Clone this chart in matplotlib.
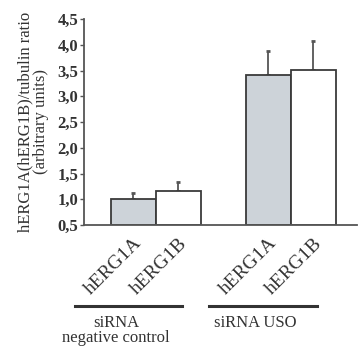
import matplotlib
matplotlib.use('Agg')
import matplotlib.pyplot as plt

labels = ['hERG1A', 'hERG1B', 'hERG1A', 'hERG1B']
positions = [0, 1, 3, 4]
values = [1.0, 1.16, 3.41, 3.51]
errors = [0.12, 0.17, 0.47, 0.56]
colors = ['#cdd3d9', 'white', '#cdd3d9', 'white']
groups = ['siRNA\nnegative control', 'siRNA USO']
yticks = [0.5, 1.0, 1.5, 2.0, 2.5, 3.0, 3.5, 4.0, 4.5]

plt.rcParams['font.family'] = ['Liberation Serif', 'DejaVu Serif']

fig = plt.figure(figsize=(3.6, 3.47), dpi=100)
W, H = 360, 347
ax = fig.add_axes([84 / W, 1 - 225 / H, (357 - 84) / W, (225 - 19) / H])

ax.bar(positions, [v - 0.5 for v in values], bottom=0.5, width=1.0,
       color=colors, edgecolor='#3a3a3a', linewidth=1.3, zorder=2)
ax.errorbar(positions, values, yerr=[[0] * 4, errors], fmt='none',
            ecolor='#555555', elinewidth=1.3, capsize=1.5, capthick=2, zorder=1)

ax.set_xlim(-1.1, 4.97)
ax.set_ylim(0.5, 4.5)
ax.set_yticks(yticks)
ax.set_yticklabels([('%.1f' % t).replace('.', ',') for t in yticks],
                   fontsize=12, fontweight='bold', color='#333333')
ax.tick_params(axis='y', length=3, width=1, color='#555555', pad=1)
ax.set_xticks(positions)
ax.set_xticklabels(labels, rotation=45, ha='right', rotation_mode='anchor',
                   fontsize=14, color='#333333')
ax.tick_params(axis='x', length=0, pad=7)

for s in ['top', 'right']:
    ax.spines[s].set_visible(False)
for s in ['left', 'bottom']:
    ax.spines[s].set_color('#555555')
    ax.spines[s].set_linewidth(1.3)

ax.set_ylabel('hERG1A(hERG1B)/tubulin ratio\n(arbitrary units)',
              fontsize=12, color='#333333', labelpad=6, linespacing=0.95)

# group lines and labels under the x axis
fig.add_artist(plt.Line2D([75 / W, 182 / W], [1 - 306 / H] * 2, color='#333333', lw=2.2))
fig.add_artist(plt.Line2D([209 / W, 317 / W], [1 - 306 / H] * 2, color='#333333', lw=2.2))
fig.text(116 / W, 1 - 315 / H, groups[0], ha='center', va='top', fontsize=12,
         color='#333333', linespacing=0.9)
fig.text(255 / W, 1 - 315 / H, groups[1], ha='center', va='top', fontsize=12,
         color='#333333')

fig.savefig('out.png', dpi=100)
